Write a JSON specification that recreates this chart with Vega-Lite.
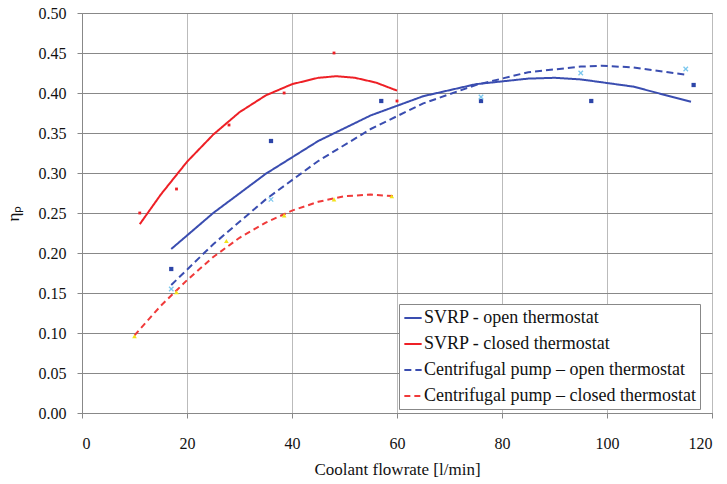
{
  "$schema": "https://vega.github.io/schema/vega-lite/v6.json",
  "width": 630,
  "height": 400,
  "autosize": {"type": "none"},
  "padding": {"left": 82, "top": 13, "right": 15, "bottom": 71},
  "background": "white",
  "config": {
    "font": "Liberation Serif",
    "view": {"stroke": "#888", "strokeWidth": 1},
    "axis": {
      "labelFont": "Liberation Serif",
      "titleFont": "Liberation Serif",
      "labelFontSize": 16,
      "titleFontSize": 17,
      "labelColor": "#111",
      "titleColor": "#111",
      "titleFontWeight": "normal",
      "domainColor": "#888",
      "tickColor": "#888",
      "gridColor": "#999",
      "gridWidth": 1,
      "tickSize": 5
    },
    "legend": {
      "labelFont": "Liberation Serif",
      "labelFontSize": 18,
      "labelColor": "#111"
    }
  },
  "datasets": {
    "curves": [
      {"series": "SVRP - open thermostat", "flow": 17, "eff": 0.205},
      {"series": "SVRP - open thermostat", "flow": 25, "eff": 0.250},
      {"series": "SVRP - open thermostat", "flow": 35, "eff": 0.299},
      {"series": "SVRP - open thermostat", "flow": 45, "eff": 0.340},
      {"series": "SVRP - open thermostat", "flow": 55, "eff": 0.372},
      {"series": "SVRP - open thermostat", "flow": 65, "eff": 0.396},
      {"series": "SVRP - open thermostat", "flow": 75, "eff": 0.411},
      {"series": "SVRP - open thermostat", "flow": 85, "eff": 0.418},
      {"series": "SVRP - open thermostat", "flow": 90, "eff": 0.419},
      {"series": "SVRP - open thermostat", "flow": 95, "eff": 0.417},
      {"series": "SVRP - open thermostat", "flow": 105, "eff": 0.408},
      {"series": "SVRP - open thermostat", "flow": 116, "eff": 0.389},
      {"series": "SVRP - closed thermostat", "flow": 11, "eff": 0.236},
      {"series": "SVRP - closed thermostat", "flow": 15, "eff": 0.273},
      {"series": "SVRP - closed thermostat", "flow": 20, "eff": 0.314},
      {"series": "SVRP - closed thermostat", "flow": 25, "eff": 0.348},
      {"series": "SVRP - closed thermostat", "flow": 30, "eff": 0.376},
      {"series": "SVRP - closed thermostat", "flow": 35, "eff": 0.397},
      {"series": "SVRP - closed thermostat", "flow": 40, "eff": 0.411},
      {"series": "SVRP - closed thermostat", "flow": 45, "eff": 0.419},
      {"series": "SVRP - closed thermostat", "flow": 48.5, "eff": 0.421},
      {"series": "SVRP - closed thermostat", "flow": 52, "eff": 0.419},
      {"series": "SVRP - closed thermostat", "flow": 56, "eff": 0.413},
      {"series": "SVRP - closed thermostat", "flow": 60, "eff": 0.403},
      {"series": "Centrifugal pump – open thermostat", "flow": 17, "eff": 0.160},
      {"series": "Centrifugal pump – open thermostat", "flow": 25, "eff": 0.211},
      {"series": "Centrifugal pump – open thermostat", "flow": 35, "eff": 0.267},
      {"series": "Centrifugal pump – open thermostat", "flow": 45, "eff": 0.315},
      {"series": "Centrifugal pump – open thermostat", "flow": 55, "eff": 0.355},
      {"series": "Centrifugal pump – open thermostat", "flow": 65, "eff": 0.387},
      {"series": "Centrifugal pump – open thermostat", "flow": 75, "eff": 0.410},
      {"series": "Centrifugal pump – open thermostat", "flow": 85, "eff": 0.426},
      {"series": "Centrifugal pump – open thermostat", "flow": 95, "eff": 0.433},
      {"series": "Centrifugal pump – open thermostat", "flow": 99, "eff": 0.434},
      {"series": "Centrifugal pump – open thermostat", "flow": 105, "eff": 0.432},
      {"series": "Centrifugal pump – open thermostat", "flow": 115, "eff": 0.423},
      {"series": "Centrifugal pump – closed thermostat", "flow": 10, "eff": 0.097},
      {"series": "Centrifugal pump – closed thermostat", "flow": 15, "eff": 0.134},
      {"series": "Centrifugal pump – closed thermostat", "flow": 20, "eff": 0.166},
      {"series": "Centrifugal pump – closed thermostat", "flow": 25, "eff": 0.195},
      {"series": "Centrifugal pump – closed thermostat", "flow": 30, "eff": 0.219},
      {"series": "Centrifugal pump – closed thermostat", "flow": 35, "eff": 0.238},
      {"series": "Centrifugal pump – closed thermostat", "flow": 40, "eff": 0.253},
      {"series": "Centrifugal pump – closed thermostat", "flow": 45, "eff": 0.264},
      {"series": "Centrifugal pump – closed thermostat", "flow": 50, "eff": 0.271},
      {"series": "Centrifugal pump – closed thermostat", "flow": 55, "eff": 0.273},
      {"series": "Centrifugal pump – closed thermostat", "flow": 59.5, "eff": 0.271}
    ],
    "points": [
      {"set": "svrp_open", "flow": 17, "eff": 0.18},
      {"set": "svrp_open", "flow": 36, "eff": 0.34},
      {"set": "svrp_open", "flow": 57, "eff": 0.39},
      {"set": "svrp_open", "flow": 76, "eff": 0.39},
      {"set": "svrp_open", "flow": 97, "eff": 0.39},
      {"set": "svrp_open", "flow": 116.5, "eff": 0.41},
      {"set": "svrp_closed", "flow": 11, "eff": 0.25},
      {"set": "svrp_closed", "flow": 18, "eff": 0.28},
      {"set": "svrp_closed", "flow": 28, "eff": 0.36},
      {"set": "svrp_closed", "flow": 38.5, "eff": 0.40},
      {"set": "svrp_closed", "flow": 48, "eff": 0.45},
      {"set": "svrp_closed", "flow": 60, "eff": 0.39},
      {"set": "cp_open", "flow": 17, "eff": 0.155},
      {"set": "cp_open", "flow": 36, "eff": 0.267},
      {"set": "cp_open", "flow": 76, "eff": 0.395},
      {"set": "cp_open", "flow": 95, "eff": 0.425},
      {"set": "cp_open", "flow": 115, "eff": 0.43},
      {"set": "cp_closed", "flow": 10, "eff": 0.096},
      {"set": "cp_closed", "flow": 18, "eff": 0.151},
      {"set": "cp_closed", "flow": 27.5, "eff": 0.215},
      {"set": "cp_closed", "flow": 38.5, "eff": 0.247},
      {"set": "cp_closed", "flow": 48, "eff": 0.267},
      {"set": "cp_closed", "flow": 59, "eff": 0.271}
    ]
  },
  "encoding": {
    "x": {
      "field": "flow", "type": "quantitative",
      "scale": {"domain": [0, 120], "nice": false},
      "axis": {"values": [0, 20, 40, 60, 80, 100, 120], "format": "d", "title": "Coolant flowrate [l/min]", "labelFont": "Liberation Serif", "titleFont": "Liberation Serif", "labelFontSize": 16, "titleFontSize": 17, "labelPadding": 17, "titlePadding": 10, "gridColor": "#bbb"}
    },
    "y": {
      "field": "eff", "type": "quantitative",
      "scale": {"domain": [0, 0.5], "nice": false},
      "axis": {"values": [0, 0.05, 0.1, 0.15, 0.2, 0.25, 0.3, 0.35, 0.4, 0.45, 0.5], "labelOverlap": false, "format": ".2f", "title": "ηₚ", "labelFont": "Liberation Serif", "titleFont": "Liberation Serif", "labelFontSize": 16, "titleFontSize": 17, "labelPadding": 11, "titlePadding": 16, "gridColor": "#888"}
    }
  },
  "layer": [
    {
      "data": {"name": "curves"},
      "mark": {"type": "line", "strokeWidth": 2},
      "encoding": {
        "color": {
          "field": "series", "type": "nominal",
          "scale": {
            "domain": ["SVRP - open thermostat", "SVRP - closed thermostat", "Centrifugal pump – open thermostat", "Centrifugal pump – closed thermostat"],
            "range": ["#3a4db0", "#ee2026", "#3a4db0", "#f03a3a"]
          },
          "legend": {
            "title": null,
            "orient": "none",
            "legendX": 317,
            "legendY": 291,
            "symbolType": "stroke",
            "symbolSize": 300,
            "symbolStrokeWidth": 2,
            "labelOffset": 1,
            "labelFontSize": 18,
            "rowPadding": 7,
            "padding": 4,
            "strokeColor": "#888",
            "fillColor": "white",
            "labelLimit": 400
          }
        },
        "strokeDash": {
          "field": "series", "type": "nominal",
          "scale": {
            "domain": ["SVRP - open thermostat", "SVRP - closed thermostat", "Centrifugal pump – open thermostat", "Centrifugal pump – closed thermostat"],
            "range": [[1, 0], [1, 0], [7, 4], [6, 4]]
          },
          "legend": {
            "title": null,
            "orient": "none",
            "legendX": 317,
            "legendY": 291,
            "symbolType": "stroke",
            "symbolSize": 300,
            "symbolStrokeWidth": 2,
            "labelOffset": 1,
            "labelFontSize": 18,
            "rowPadding": 7,
            "padding": 4,
            "strokeColor": "#888",
            "fillColor": "white",
            "labelLimit": 400
          }
        }
      }
    },
    {
      "data": {"name": "points"},
      "transform": [{"filter": "datum.set == 'svrp_open'"}],
      "mark": {"type": "point", "shape": "square", "filled": true, "size": 18, "color": "#2d45a8", "opacity": 1}
    },
    {
      "data": {"name": "points"},
      "transform": [{"filter": "datum.set == 'svrp_closed'"}],
      "mark": {"type": "point", "shape": "square", "filled": true, "size": 8, "color": "#ee2026", "opacity": 1}
    },
    {
      "data": {"name": "points"},
      "transform": [{"filter": "datum.set == 'cp_open'"}],
      "mark": {"type": "point", "shape": "M-1,-1L1,1M1,-1L-1,1", "filled": false, "size": 20, "strokeWidth": 1.3, "color": "#7cc8ee", "opacity": 1}
    },
    {
      "data": {"name": "points"},
      "transform": [{"filter": "datum.set == 'cp_closed'"}],
      "mark": {"type": "point", "shape": "triangle-up", "filled": true, "size": 22, "color": "#f2e21a", "opacity": 1}
    }
  ]
}
